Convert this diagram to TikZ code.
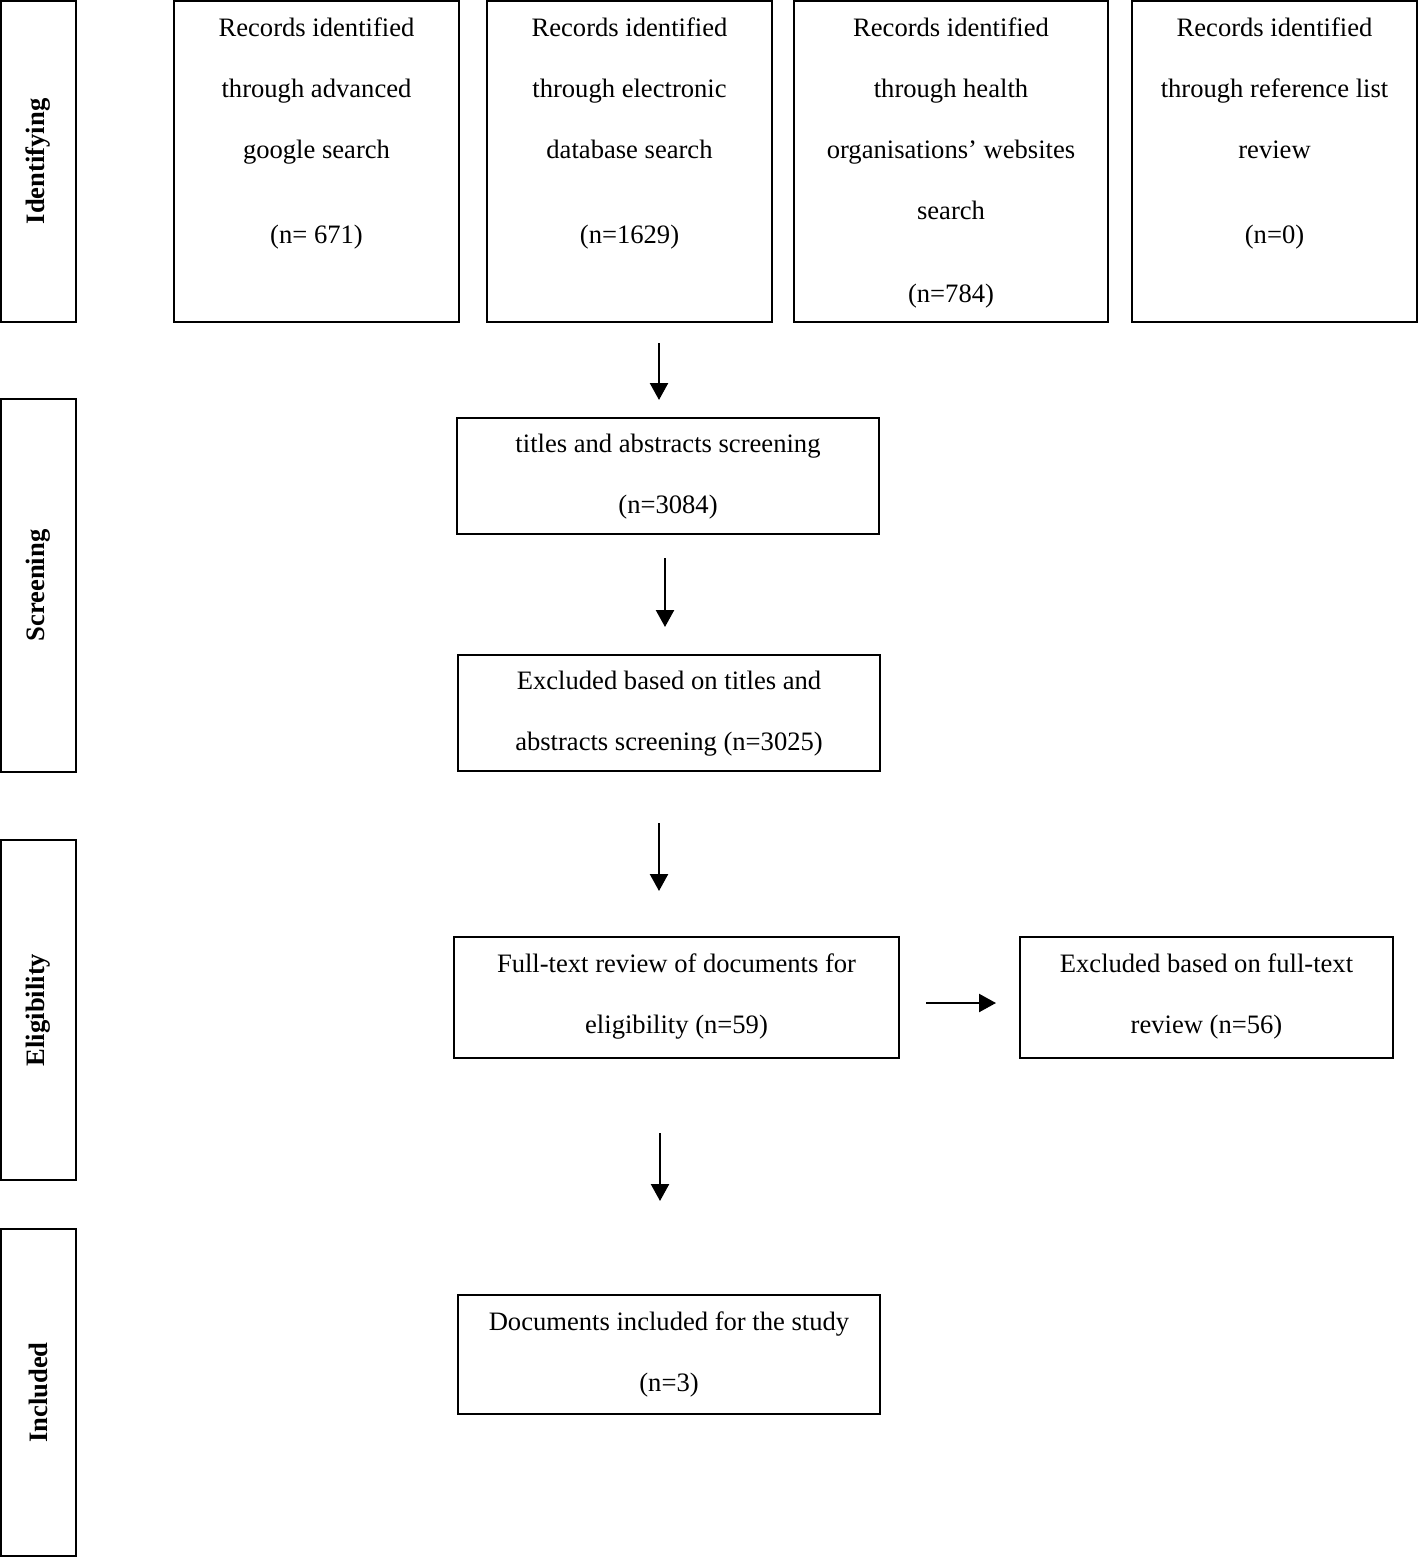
\documentclass[tikz,border=0pt]{standalone}
\usepackage{fontspec}
\setmainfont{Liberation Serif}
\usetikzlibrary{arrows.meta,positioning}
\tikzset{stagebox/.style={draw,rectangle,line width=1pt,minimum width=37.5pt},
    recbox/.style={draw,rectangle,line width=1pt},
    boxtext/.style={inner sep=0,align=center,anchor=north,font={\fontsize{13.3pt}{30.5pt}\selectfont}},
    stagetext/.style={rotate=90,font={\fontsize{13.3pt}{16pt}\selectfont\bfseries}},
    flowarrow/.style={-{Triangle[length=8.5pt,width=9pt]},line width=1.2pt}}

\begin{document}
\begin{tikzpicture}[x=0.5pt,y=-0.5pt]

\useasboundingbox (0,0) rectangle (1418,1557);

% stages on the left

\node (idbox) at (38.5,161.5) [stagebox,minimum height=160.5pt] {};
\node (scbox) at (38.5,585.5) [stagebox,minimum height=186.5pt] {};
\node (elbox) at (38.5,1010) [stagebox,minimum height=170pt] {};
\node (inbox) at (38.5,1392.5) [stagebox,minimum height=163.5pt] {};

\node (idtext) at (idbox) [stagetext] {Identifying};
\node (sctext) at (scbox) [stagetext] {Screening};
\node (eltext) at (elbox) [stagetext] {Eligibility};
\node (intext) at (inbox) [stagetext] {Included};

% record sources

\node (google) at (316.5,161.5) [recbox,minimum width=142.5pt,minimum height=160.5pt] {};
\node (edb) at (629.5,161.5) [recbox,minimum width=142.5pt,minimum height=160.5pt] {};
\node (health) at (951,161.5) [recbox,minimum width=157pt,minimum height=160.5pt] {};
\node (reflist) at (1274.5,161.5) [recbox,minimum width=142.5pt,minimum height=160.5pt] {};

\node (googlet) at ([yshift=-8.5pt]google.north) [boxtext] {Records identified\\through advanced\\google search\\[12pt](n= 671)};
\node (edbt) at ([yshift=-8.5pt]edb.north) [boxtext] {Records identified\\through electronic\\database search\\[12pt](n=1629)};
\node (healtht) at ([yshift=-8.5pt]health.north) [boxtext] {Records identified\\through health\\organisations' websites\\search\\[11pt](n=784)};
\node (reflistt) at ([yshift=-8.5pt]reflist.north) [boxtext] {Records identified\\through reference list\\review\\[12pt](n=0)};

% screening and the rest

\node (screen) at (668,476) [recbox,minimum width=211pt,minimum height=58pt] {};
\node (excl) at (669,713) [recbox,minimum width=211pt,minimum height=58pt] {};
\node (fulltext) at (676.5,997.5) [recbox,minimum width=222.5pt,minimum height=60.5pt] {};
\node (exclft) at (1206.5,997.5) [recbox,minimum width=186.5pt,minimum height=60.5pt] {};
\node (incl) at (669,1354.5) [recbox,minimum width=211pt,minimum height=59.5pt] {};

\node (screent) at ([yshift=-8.5pt]screen.north) [boxtext] {titles and abstracts screening\\(n=3084)};
\node (exclt) at ([yshift=-8.5pt]excl.north) [boxtext] {Excluded based on titles and\\abstracts screening (n=3025)};
\node (fulltextt) at ([yshift=-8.5pt]fulltext.north) [boxtext] {Full-text review of documents for\\eligibility (n=59)};
\node (exclftt) at ([yshift=-8.5pt]exclft.north) [boxtext] {Excluded based on full-text\\review (n=56)};
\node (inclt) at ([yshift=-8.5pt]incl.north) [boxtext] {Documents included for the study\\(n=3)};

% arrows

\coordinate (a1s) at (659,343);
\coordinate (a1e) at (659,400);
\coordinate (a2s) at (665,558);
\coordinate (a2e) at (665,627);
\coordinate (a3s) at (659,823);
\coordinate (a3e) at (659,891);
\coordinate (a4s) at (660,1133);
\coordinate (a4e) at (660,1201);
\coordinate (hs) at (926,1003);
\coordinate (he) at (996,1003);

\draw [flowarrow] (a1s) -- (a1e);
\draw [flowarrow] (a2s) -- (a2e);
\draw [flowarrow] (a3s) -- (a3e);
\draw [flowarrow] (a4s) -- (a4e);
\draw [flowarrow] (hs) -- (he);

\end{tikzpicture}
\end{document}
